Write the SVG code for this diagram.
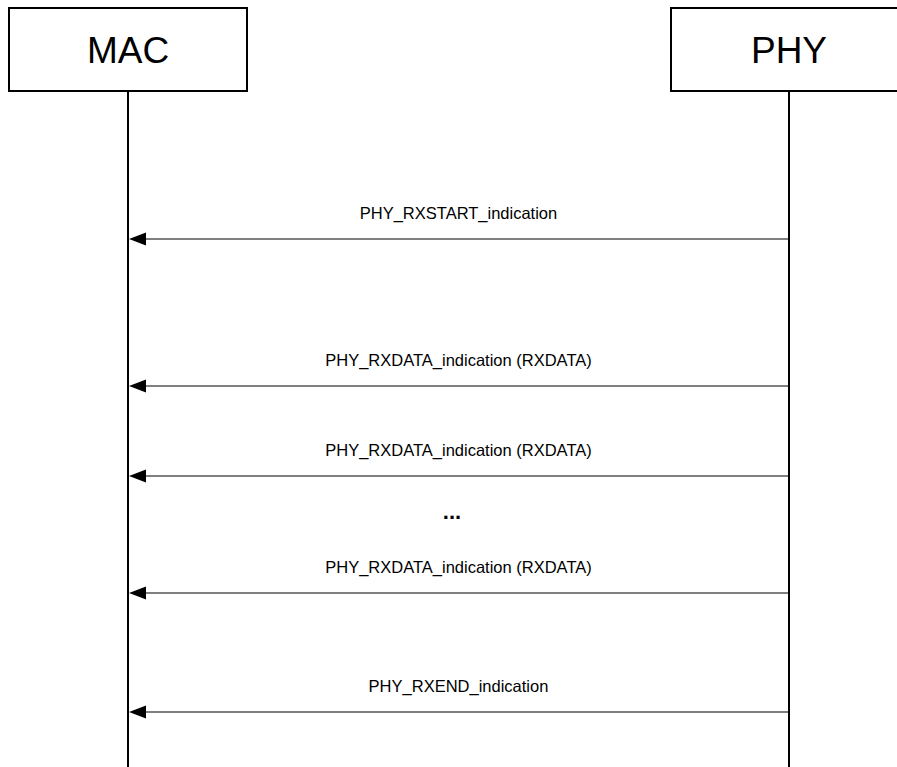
<svg xmlns="http://www.w3.org/2000/svg" width="897" height="767" viewBox="0 0 897 767">
  <style>
    .box { fill: #ffffff; stroke: #000000; stroke-width: 2; }
    .life { stroke: #000000; stroke-width: 2; fill: none; }
    .title { font-family: "Liberation Sans", Arial, sans-serif; font-size: 37px; fill: #000000; text-anchor: middle; }
    .msg { stroke: #000000; stroke-width: 1.2; fill: none; }
    .label { font-family: "Liberation Sans", Arial, sans-serif; font-size: 16.5px; fill: #000000; text-anchor: middle; }
    .dots { font-family: "Liberation Sans", Arial, sans-serif; font-size: 22px; font-weight: bold; fill: #000000; text-anchor: middle; }
    .head { fill: #000000; stroke: none; }
  </style>

  <!-- lifeline participants -->
  <g id="mac">
    <rect class="box" x="9" y="8" width="238" height="83"/>
    <text class="title" x="128" y="63">MAC</text>
    <line class="life" x1="128" y1="91" x2="128" y2="767"/>
  </g>
  <g id="phy">
    <rect class="box" x="671" y="8" width="240" height="83"/>
    <text class="title" x="789" y="63">PHY</text>
    <line class="life" x1="789" y1="91" x2="789" y2="767"/>
  </g>

  <!-- messages PHY -> MAC -->
  <g id="connectors">
    <g id="msg-rxstart">
      <line class="msg" x1="789" y1="239" x2="144" y2="239"/>
      <polygon class="head" points="129,239 146,232.5 146,245.5"/>
      <text class="label" x="458.5" y="219">PHY_RXSTART_indication</text>
    </g>
    <g id="msg-rxdata-1">
      <line class="msg" x1="789" y1="386" x2="144" y2="386"/>
      <polygon class="head" points="129,386 146,379.5 146,392.5"/>
      <text class="label" x="458.5" y="366">PHY_RXDATA_indication (RXDATA)</text>
    </g>
    <g id="msg-rxdata-2">
      <line class="msg" x1="789" y1="476" x2="144" y2="476"/>
      <polygon class="head" points="129,476 146,469.5 146,482.5"/>
      <text class="label" x="458.5" y="456">PHY_RXDATA_indication (RXDATA)</text>
    </g>
    <text class="dots" x="452" y="519">...</text>
    <g id="msg-rxdata-n">
      <line class="msg" x1="789" y1="593" x2="144" y2="593"/>
      <polygon class="head" points="129,593 146,586.5 146,599.5"/>
      <text class="label" x="458.5" y="573">PHY_RXDATA_indication (RXDATA)</text>
    </g>
    <g id="msg-rxend">
      <line class="msg" x1="789" y1="712" x2="144" y2="712"/>
      <polygon class="head" points="129,712 146,705.5 146,718.5"/>
      <text class="label" x="458.5" y="692">PHY_RXEND_indication</text>
    </g>
  </g>
</svg>
